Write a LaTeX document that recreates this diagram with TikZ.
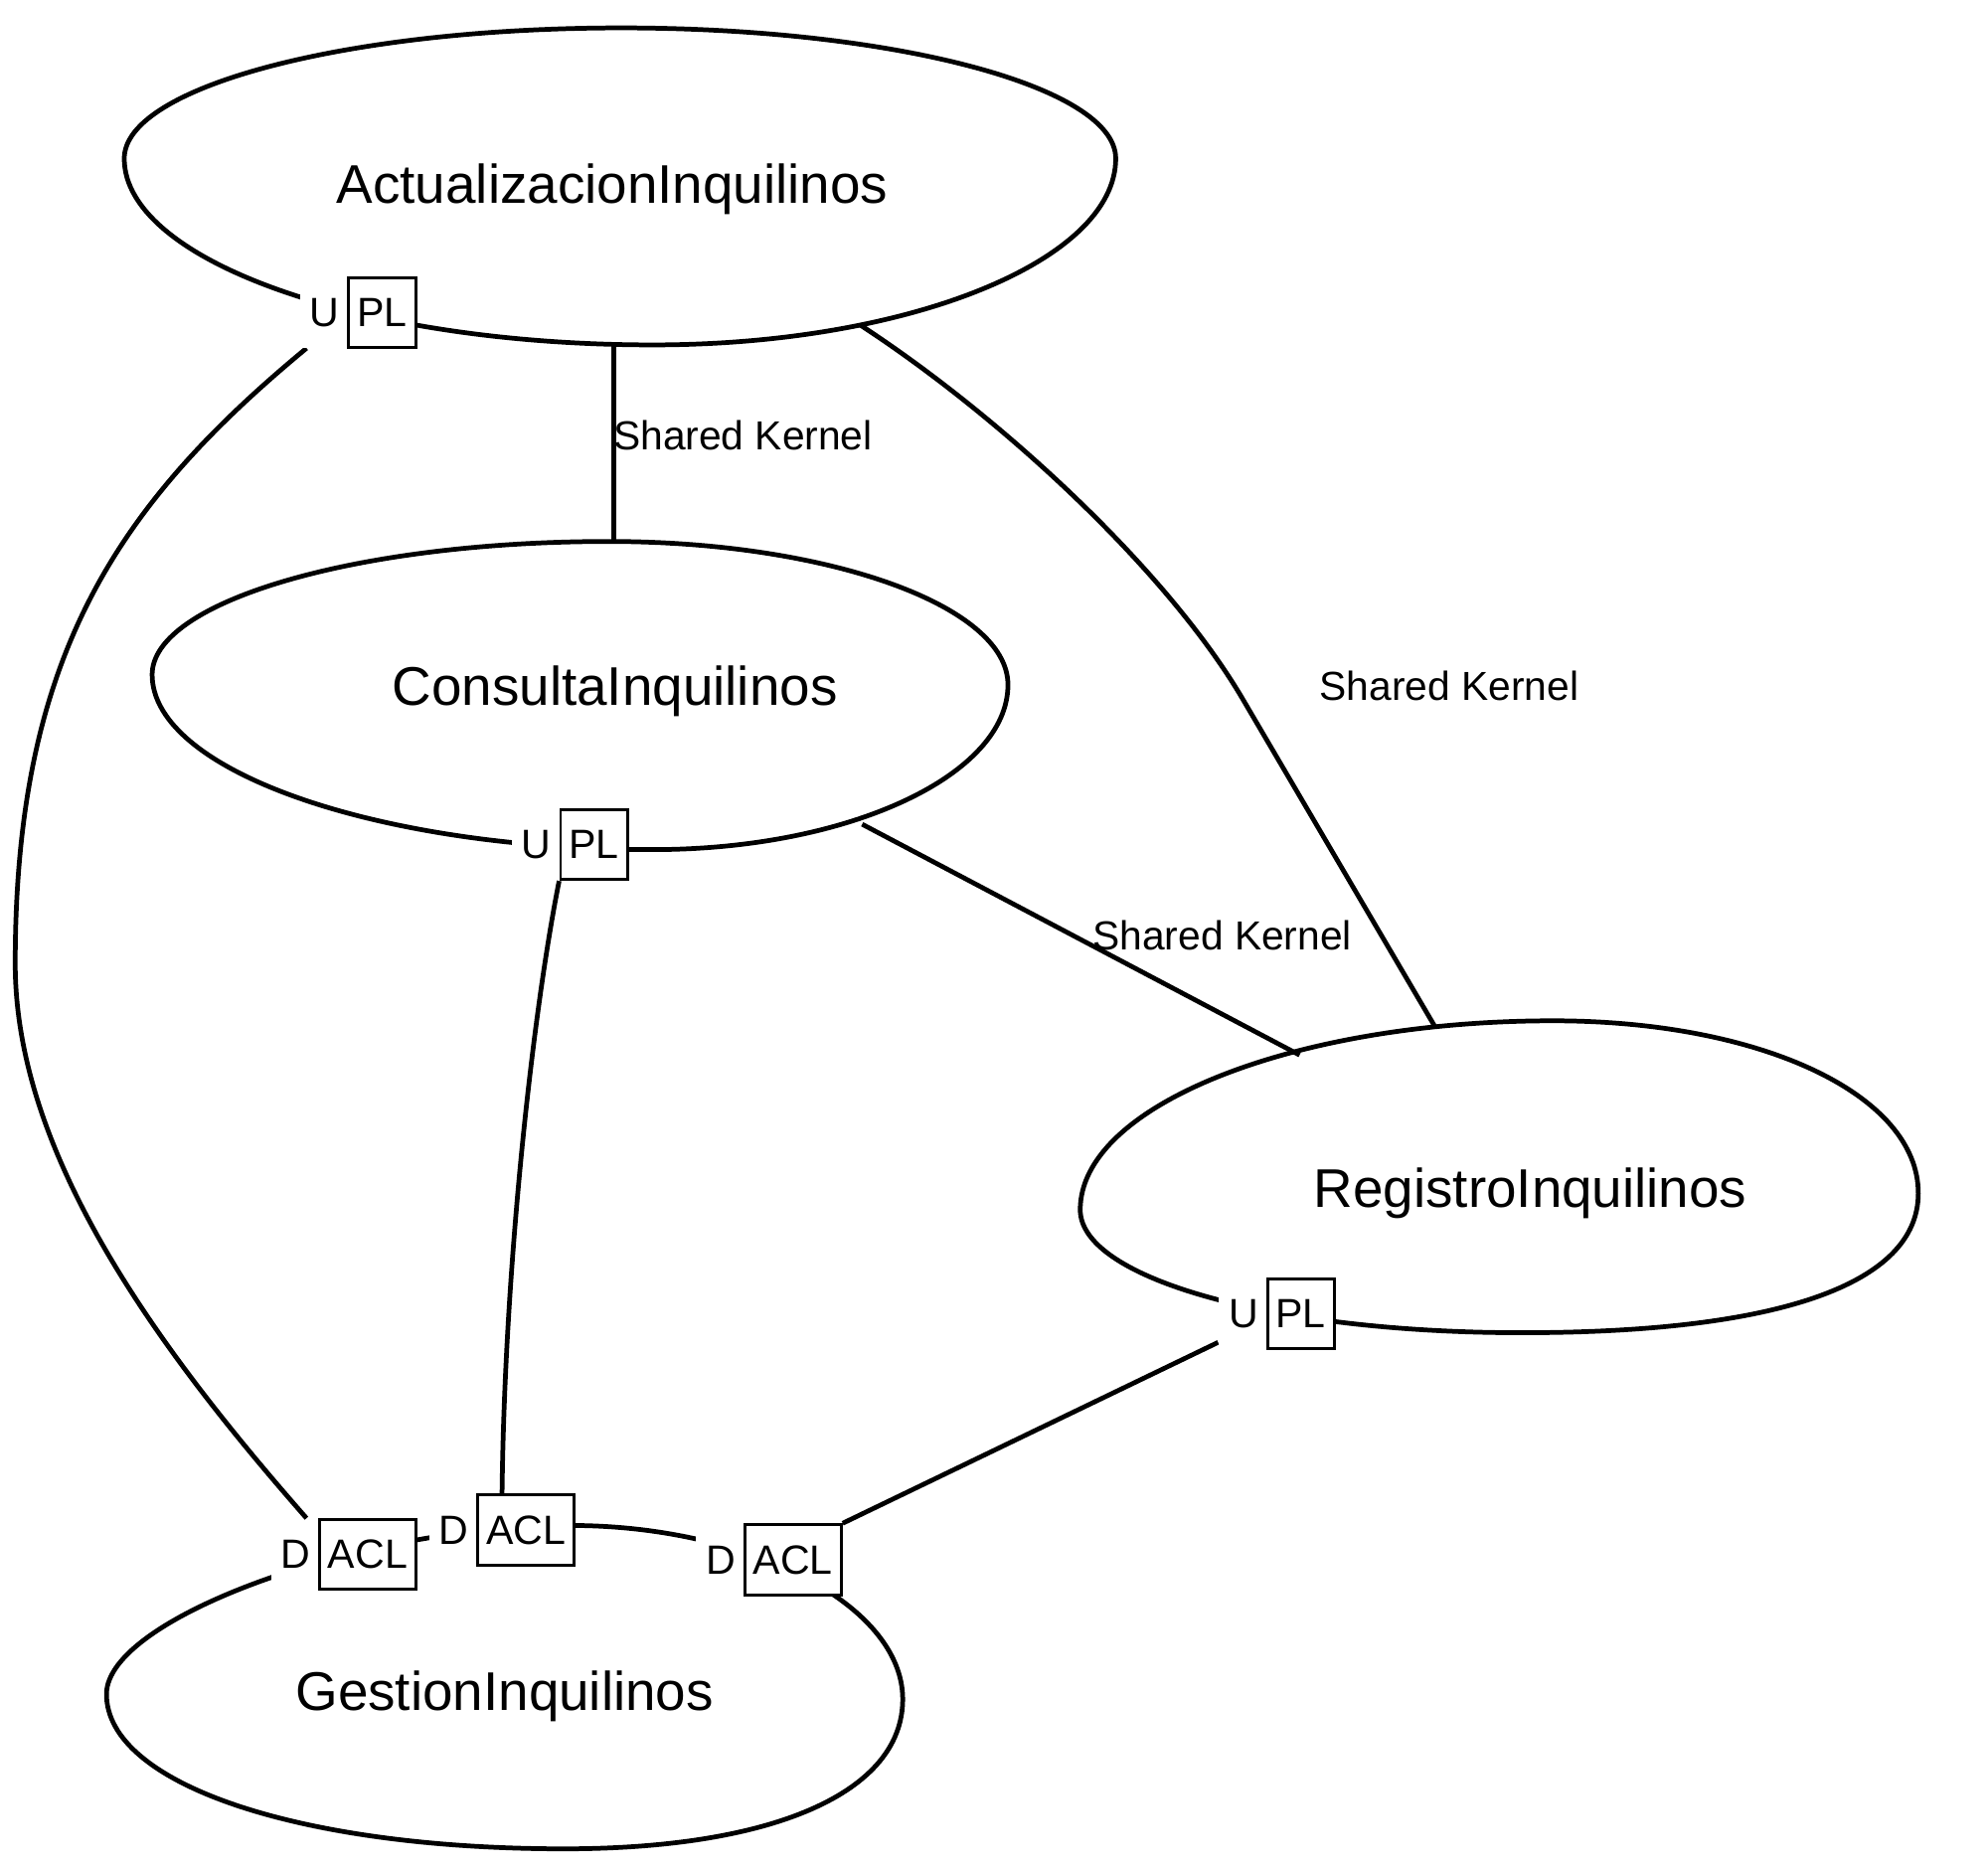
\documentclass[tikz,border=0pt]{standalone}
\usepackage{fontspec}
\setmainfont{Liberation Sans}
\usetikzlibrary{backgrounds,calc}
\pgfdeclarelayer{mid}
\pgfsetlayers{background,mid,main}
% closed egg-like outline through left, top, right, bottom points
\newcommand{\ctxegg}[5]{%
  \draw[ctx] (#1L) .. controls ($(#1L)!#2!(#1L|-#1T)$) and ($(#1T)!#2!(#1L|-#1T)$) .. (#1T)
    .. controls ($(#1T)!#3!(#1R|-#1T)$) and ($(#1R)!#3!(#1R|-#1T)$) .. (#1R)
    .. controls ($(#1R)!#4!(#1R|-#1B)$) and ($(#1B)!#4!(#1R|-#1B)$) .. (#1B)
    .. controls ($(#1B)!#5!(#1L|-#1B)$) and ($(#1L)!#5!(#1L|-#1B)$) .. cycle;}
\begin{document}
\begin{tikzpicture}[x=0.012755cm,y=-0.012755cm,
  ctx/.style={line width=1.35pt},
  conn/.style={line width=1.35pt},
  ctxname/.style={font=\fontsize{15.6}{18}\selectfont, inner sep=0pt, anchor=base},
  rel/.style={font=\fontsize{11.6}{14}\selectfont, inner sep=0pt},
  role/.style={font=\fontsize{11.7}{14}\selectfont, fill=white, inner xsep=2.8pt, inner ysep=0pt, minimum height=20pt, anchor=west},
  pat/.style={font=\fontsize{11.7}{14}\selectfont, draw, line width=0.85pt, fill=white, inner xsep=2.4pt, inner ysep=0pt, minimum height=20pt},
]
\useasboundingbox (0,0) rectangle (1568,1473);

% context names
\node[ctxname] (actName) at (483,160) {ActualizacionInquilinos};
\node[ctxname] (conName) at (485,556) {ConsultaInquilinos};
\node[ctxname] (regName) at (1207,952.5) {RegistroInquilinos};
\node[ctxname] (gesName) at (398,1349) {GestionInquilinos};

% pattern boxes
\node[pat] (aPL) at (301.5,246.5) {PL};
\node[pat] (bPL) at (468.5,666) {PL};
\node[pat] (cPL) at (1026,1036) {PL};
\node[pat] (d1ACL) at (290,1226) {ACL};
\node[pat] (d2ACL) at (415,1206.5) {ACL};
\node[pat] (d3ACL) at (625.5,1230) {ACL};

% role letters (drawn under the boxes)
\begin{pgfonlayer}{mid}
\node[role] (aU) at ([xshift=-13.7pt]aPL.west) {U\hspace{6pt}};
\node[role] (bU) at ([xshift=-13.7pt]bPL.west) {U\hspace{6pt}};
\node[role] (cU) at ([xshift=-13.7pt]cPL.west) {U\hspace{6pt}};
\node[role] (d1D) at ([xshift=-13.7pt]d1ACL.west) {D\hspace{6pt}};
\node[role] (d2D) at ([xshift=-13.7pt]d2ACL.west) {D\hspace{6pt}};
\node[role] (d3D) at ([xshift=-13.7pt]d3ACL.west) {D\hspace{6pt}};
\end{pgfonlayer}

% relationship labels
\node[rel] (sk1) at (586,343) {Shared Kernel};
\node[rel] (sk2) at (1143,541) {Shared Kernel};
\node[rel] (sk3) at (964,738) {Shared Kernel};

% outline extreme points of the bounded contexts
\coordinate (aL) at (98,125);   \coordinate (aT) at (490,22);
\coordinate (aR) at (880,125);  \coordinate (aB) at (515,272);
\coordinate (bL) at (120,532);  \coordinate (bT) at (480,427);
\coordinate (bR) at (795,540);  \coordinate (bB) at (515,670);
\coordinate (cL) at (852,954);  \coordinate (cT) at (1225,805);
\coordinate (cR) at (1513,941); \coordinate (cB) at (1200,1051);
\coordinate (dL) at (84,1336);  \coordinate (dT) at (450,1203);
\coordinate (dR) at (712,1340); \coordinate (dB) at (445,1458);

% connector ends on the context outlines
\coordinate (aS) at (484,272);
\coordinate (bN) at (484,427);
\coordinate (aSE) at (678,256);
\coordinate (cN) at (1132,810);
\coordinate (bSE) at (680,650);
\coordinate (cNW) at (1025,832);

\begin{scope}[on background layer]
\ctxegg{a}{0.55}{0.55}{0.55}{0.55}
\ctxegg{b}{0.55}{0.55}{0.55}{0.55}
\ctxegg{c}{0.55}{0.57}{0.65}{0.56}
\ctxegg{d}{0.45}{0.54}{0.62}{0.58}

% connectors
\draw[conn] (aS) -- (bN);
\draw[conn] (aSE) .. controls (788,327.5) and (920,449) .. (980,551) -- (cN);
\draw[conn] (bSE) -- (cNW);
\draw[conn] ([xshift=2pt]aU.south west) .. controls (90,400) and (12,520) .. (12,760)
  .. controls (12,910) and (123,1062) .. ([xshift=-3.3pt]d1ACL.north west);
\draw[conn] (bPL.south west) .. controls (420,800) and (398,1000) .. ([xshift=7.3pt]d2ACL.north west);
\draw[conn] ([yshift=2pt]cU.south west) -- (d3ACL.north east);
\end{scope}
\end{tikzpicture}
\end{document}
